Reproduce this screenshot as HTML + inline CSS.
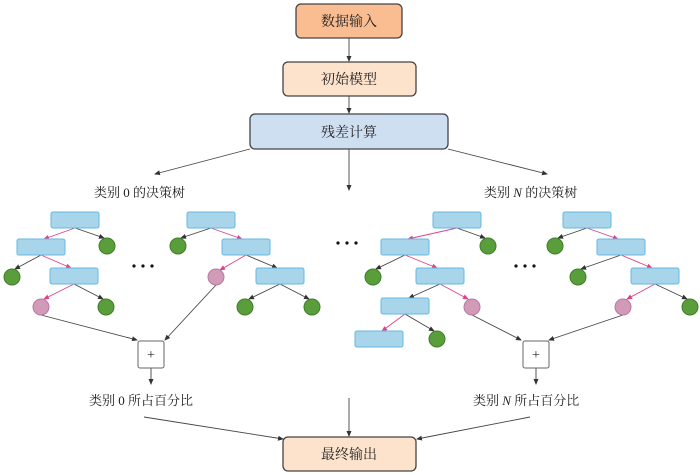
<!DOCTYPE html>
<html><head><meta charset="utf-8"><style>
html,body{margin:0;padding:0;background:#fff;width:700px;height:475px;overflow:hidden}
text{font-family:"Liberation Serif","Noto Serif CJK SC","Noto Sans CJK SC",serif;fill:#222}
</style></head><body>
<svg width="700" height="475" viewBox="0 0 700 475" xmlns="http://www.w3.org/2000/svg">
<defs>
<marker id="a" markerWidth="6" markerHeight="6" refX="5" refY="3" orient="auto" markerUnits="userSpaceOnUse"><path d="M0,0.5 L6,3 L0,5.5 z" fill="#333"/></marker>
<marker id="p" markerWidth="6" markerHeight="6" refX="5" refY="3" orient="auto" markerUnits="userSpaceOnUse"><path d="M0,0.5 L6,3 L0,5.5 z" fill="#e0408a"/></marker>
</defs>
<g stroke="#444" stroke-width="1.3">
<rect x="296" y="4" width="106" height="34" rx="5" fill="#f9bd91"/>
<rect x="283" y="62" width="133" height="34" rx="5" fill="#fde2cc"/>
<rect x="250" y="114" width="198" height="35" rx="5" fill="#cfdff2"/>
<rect x="283" y="437" width="133" height="34" rx="5" fill="#fde2cc"/>
</g>
<g font-size="14" text-anchor="middle">
<text x="349" y="26">数据输入</text>
<text x="349" y="84">初始模型</text>
<text x="349" y="137">残差计算</text>
<text x="349" y="459">最终输出</text>
</g>
<g stroke="#444" stroke-width="0.9" fill="none" marker-end="url(#a)">
<line x1="349" y1="38" x2="349" y2="61"/>
<line x1="349" y1="96" x2="349" y2="113"/>
<line x1="349" y1="149" x2="349" y2="190"/>
<line x1="250" y1="149" x2="155" y2="174"/>
<line x1="448" y1="149" x2="547" y2="174"/>
<line x1="349" y1="398" x2="349" y2="436"/>
<line x1="144" y1="417" x2="283" y2="439"/>
<line x1="530" y1="417" x2="417" y2="439"/>
<line x1="151" y1="368" x2="151" y2="384"/>
<line x1="536" y1="368" x2="536" y2="384"/>
<line x1="41" y1="315" x2="137" y2="340"/>
<line x1="216" y1="285" x2="165" y2="340"/>
<line x1="472" y1="315" x2="521" y2="340"/>
<line x1="623" y1="315" x2="549" y2="340"/>
</g>
<g font-size="13">
<text x="94" y="197">类别 0 的决策树</text>
<text x="484" y="197">类别 <tspan font-style="italic">N</tspan> 的决策树</text>
<text x="89" y="405">类别 0 所占百分比</text>
<text x="473" y="405">类别 <tspan font-style="italic">N</tspan> 所占百分比</text>
</g>
<g stroke="#666" stroke-width="1" fill="#fff">
<rect x="138" y="341" width="26" height="27" rx="2"/>
<rect x="523" y="341" width="26" height="27" rx="2"/>
</g>
<g font-size="14" text-anchor="middle" font-family="Liberation Sans"><text x="151" y="359">+</text><text x="536" y="359">+</text></g>
<!-- edges -->
<g stroke-width="0.9" fill="none">
<g stroke="#e0408a" marker-end="url(#p)">
<line x1="75" y1="228" x2="44" y2="239"/><line x1="41" y1="255" x2="71" y2="268"/><line x1="74" y1="284" x2="44" y2="299"/>
<line x1="211" y1="228" x2="242" y2="239"/><line x1="246" y1="255" x2="220" y2="270"/>
<line x1="457" y1="228" x2="408" y2="239"/><line x1="405" y1="255" x2="437" y2="268"/><line x1="440" y1="284" x2="468" y2="299"/><line x1="405" y1="314" x2="382" y2="331"/>
<line x1="587" y1="228" x2="618" y2="239"/><line x1="621" y1="255" x2="652" y2="268"/><line x1="655" y1="284" x2="627" y2="299"/>
</g>
<g stroke="#444" marker-end="url(#a)">
<line x1="75" y1="228" x2="104" y2="238"/><line x1="41" y1="255" x2="15" y2="269"/><line x1="74" y1="284" x2="103" y2="299"/>
<line x1="211" y1="228" x2="181" y2="238"/><line x1="246" y1="255" x2="277" y2="268"/><line x1="280" y1="284" x2="249" y2="299"/><line x1="280" y1="284" x2="309" y2="299"/>
<line x1="457" y1="228" x2="485" y2="238"/><line x1="405" y1="255" x2="376" y2="269"/><line x1="440" y1="284" x2="409" y2="298"/><line x1="405" y1="314" x2="434" y2="331"/>
<line x1="587" y1="228" x2="558" y2="238"/><line x1="621" y1="255" x2="581" y2="269"/><line x1="655" y1="284" x2="687" y2="299"/>
</g>
</g>
<g fill="#a8d5ea" stroke="#66b8e4" stroke-width="1">
<rect x="51" y="212" width="48" height="16" rx="2"/><rect x="17" y="239" width="48" height="16" rx="2"/><rect x="50" y="268" width="48" height="16" rx="2"/>
<rect x="187" y="212" width="48" height="16" rx="2"/><rect x="222" y="239" width="48" height="16" rx="2"/><rect x="256" y="268" width="48" height="16" rx="2"/>
<rect x="433" y="212" width="48" height="16" rx="2"/><rect x="381" y="239" width="48" height="16" rx="2"/><rect x="416" y="268" width="48" height="16" rx="2"/><rect x="381" y="298" width="48" height="16" rx="2"/><rect x="355" y="331" width="48" height="16" rx="2"/>
<rect x="563" y="212" width="48" height="16" rx="2"/><rect x="597" y="239" width="48" height="16" rx="2"/><rect x="631" y="268" width="48" height="16" rx="2"/>
</g>
<g fill="#5a9e3c" stroke="#3f7d28" stroke-width="1">
<circle cx="107" cy="246" r="8"/><circle cx="12" cy="277" r="8"/><circle cx="106" cy="307" r="8"/>
<circle cx="178" cy="246" r="8"/><circle cx="245" cy="307" r="8"/><circle cx="312" cy="307" r="8"/>
<circle cx="488" cy="246" r="8"/><circle cx="373" cy="277" r="8"/><circle cx="437" cy="339" r="8"/>
<circle cx="555" cy="246" r="8"/><circle cx="578" cy="277" r="8"/><circle cx="690" cy="307" r="8"/>
</g>
<g fill="#d19bb8" stroke="#b57aa0" stroke-width="1">
<circle cx="41" cy="307" r="8"/><circle cx="216" cy="277" r="8"/><circle cx="472" cy="307" r="8"/><circle cx="623" cy="307" r="8"/>
</g>
<g fill="#111">
<circle cx="134" cy="266" r="1.6"/><circle cx="143" cy="266" r="1.6"/><circle cx="152" cy="266" r="1.6"/>
<circle cx="338" cy="243" r="1.6"/><circle cx="347" cy="243" r="1.6"/><circle cx="356" cy="243" r="1.6"/>
<circle cx="516" cy="266" r="1.6"/><circle cx="525" cy="266" r="1.6"/><circle cx="534" cy="266" r="1.6"/>
</g>
</svg>
</body></html>
